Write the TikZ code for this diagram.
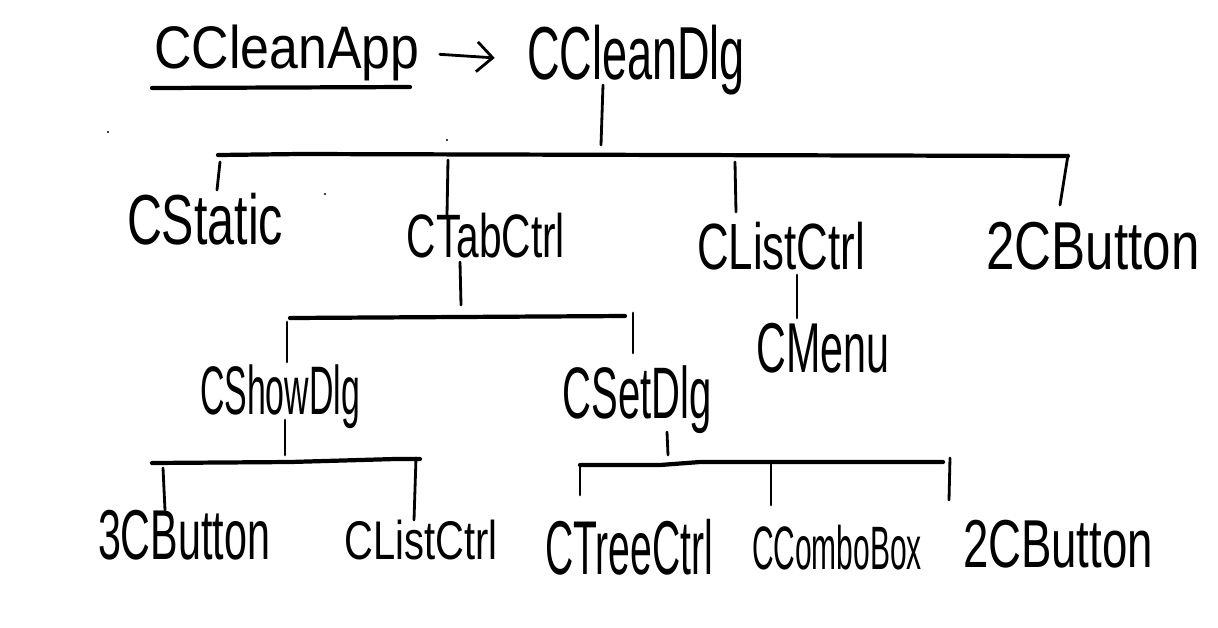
\documentclass[tikz,border=0pt]{standalone}
\usepackage{graphicx}
\usepackage{fontspec}
\setmainfont{Liberation Sans}
\usetikzlibrary{arrows.meta}
% width and total height in px (1px = 0.02cm)
\newcommand{\hw}[3]{\resizebox*{#1\dimexpr0.02cm\relax}{#2\dimexpr0.02cm\relax}{#3}}
\tikzset{
  lbl/.style={inner sep=0pt, font=\fontsize{34}{36}\selectfont},
  ln/.style={line width=1.6pt, line cap=round},
  bus/.style={line width=2.4pt, line cap=round},
}
\begin{document}
\begin{tikzpicture}[x=0.02cm,y=-0.02cm]
\useasboundingbox[fill=white] (0,0) rectangle (1218,627);
% labels
\node[lbl] (app) at (287,53) {\hw{265}{56}{CCleanApp}};
\node[lbl] (dlg) at (636,60) {\hw{218}{70}{CCleanDlg}};
\node[lbl] (static) at (205,219) {\hw{156}{52}{CStatic}};
\node[lbl] (tab) at (486,236) {\hw{158}{45}{CTabCtrl}};
\node[lbl] (list1) at (781,246) {\hw{168}{48}{CListCtrl}};
\node[lbl] (btn2a) at (1093,246) {\hw{213}{48}{2CButton}};
\node[lbl] (menu) at (823,348) {\hw{133}{50}{CMenu}};
\node[lbl] (show) at (280,397) {\hw{160}{64}{CShowDlg}};
\node[lbl] (set) at (637,400) {\hw{149}{68}{CSetDlg}};
\node[lbl] (btn3) at (184,535) {\hw{172}{50}{3CButton}};
\node[lbl] (list2) at (421,540) {\hw{153}{40}{CListCtrl}};
\node[lbl] (tree) at (629,547) {\hw{168}{56}{CTreeCtrl}};
\node[lbl] (combo) at (837,548) {\hw{170}{45}{CComboBox}};
\node[lbl] (btn2b) at (1058,544) {\hw{190}{48}{2CButton}};
% underline and arrow
\draw[bus] (152,88) -- (410,87);
\draw[ln, -{Straight Barb[length=9pt,width=17pt,line width=1.6pt]}, shorten <=0.4cm, shorten >=0.64cm] (app.east) -- (dlg.west);
% level 1
\coordinate (b1l) at (218,155); \coordinate (b1r) at (1068,155);
\draw[ln] (603,85) -- (601,145);
\draw[bus] (b1l) -- (300,154) -- (1068,156);
\draw[ln] (220,162) -- (217,190);
\draw[ln] (448,160) -- (447,215);
\draw[ln] (735,162) -- (736,212);
\draw[ln] (b1r) -- (1060,205);
% CTabCtrl
\draw[ln] (460,262) -- (461,305);
\draw[bus] (290,318) -- (625,316);
\draw[ln] (287,322) -- (287,362);
\draw[ln] (633,313) -- (633,353);
% CListCtrl -> CMenu
\draw[ln] (797,275) -- (797,318);
% CShowDlg
\draw[ln] (285,420) -- (285,455);
\draw[bus] (152,463) -- (290,462) -- (395,459) -- (420,459);
\draw[ln] (163,468) -- (165,510);
\draw[ln] (416,458) -- (414,520);
% CSetDlg
\draw[ln] (667,432) -- (668,455);
\draw[bus] (580,465) -- (660,465) -- (700,462) -- (943,462);
\draw[ln] (580,465) -- (580,495);
\draw[ln] (771,462) -- (771,505);
\draw[ln] (950,458) -- (949,500);
% stray dots
\fill (108,132) circle (1.2);
\fill (325,194) circle (1.2);
\fill (447,140) circle (1.2);
\end{tikzpicture}
\end{document}
